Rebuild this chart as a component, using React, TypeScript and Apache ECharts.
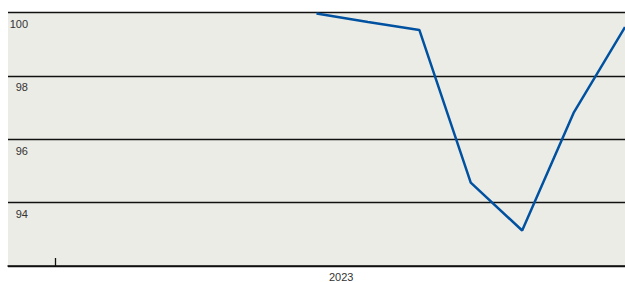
import React, { useEffect, useRef } from "react";
import * as echarts from "echarts";

const categories = ["P0", "P1", "P2", "P3", "P4", "P5", "P6", "P7", "P8", "P9", "P10", "P11", "P12"];
const values: (number | null)[] = [null, null, null, null, null, null, 99.97, 99.7, 99.45, 94.63, 93.12, 96.83, 99.54];
const yearTickPos = [0.91];
const yearLabelPos = [6.48];
const yearLabel = "2023";

export default function App() {
  const ref = useRef<HTMLDivElement>(null);
  useEffect(() => {
    if (!ref.current) return;
    const chart = echarts.init(ref.current, null, { renderer: "svg" });
    const font = "'Liberation Sans', Arial, Helvetica, sans-serif";
    chart.setOption({
      animation: false,
      backgroundColor: "#ffffff",
      grid: {
        left: 8,
        right: 0,
        top: 12.5,
        bottom: 16,
        show: true,
        backgroundColor: "#ecece7",
        borderWidth: 0,
      },
      xAxis: [
        {
          type: "category",
          data: categories,
          boundaryGap: false,
          show: false,
        },
        {
          type: "value",
          min: 0,
          max: 12,
          position: "bottom",
          axisLine: { show: true, lineStyle: { color: "#111", width: 1.5 } },
          axisTick: {
            show: true,
            inside: true,
            length: 8,
            customValues: yearTickPos,
            lineStyle: { color: "#111", width: 1.3 },
          },
          axisLabel: {
            show: true,
            customValues: yearLabelPos,
            formatter: () => yearLabel,
            margin: 5,
            color: "#333",
            fontSize: 11,
            fontFamily: font,
          },
          splitLine: { show: false },
        },
      ],
      yAxis: {
        type: "value",
        min: 92,
        max: 100,
        interval: 2,
        axisLine: { show: false },
        axisTick: { show: false },
        splitLine: { show: true, lineStyle: { color: "#111", width: 1.3 } },
        axisLabel: {
          inside: true,
          showMinLabel: false,
          align: "right",
          verticalAlign: "top",
          margin: 20,
          padding: [6, 0, 0, 0],
          color: "#333",
          fontSize: 11,
          fontFamily: font,
        },
      },
      series: [
        {
          type: "line",
          data: values,
          xAxisIndex: 0,
          symbol: "none",
          lineStyle: { color: "#0052a0", width: 2.5 },
          connectNulls: false,
        },
      ],
    });
    return () => chart.dispose();
  }, []);
  return (
    <div
      ref={ref}
      style={{ position: "absolute", left: 0, top: 0, width: 625, height: 282 }}
    />
  );
}
